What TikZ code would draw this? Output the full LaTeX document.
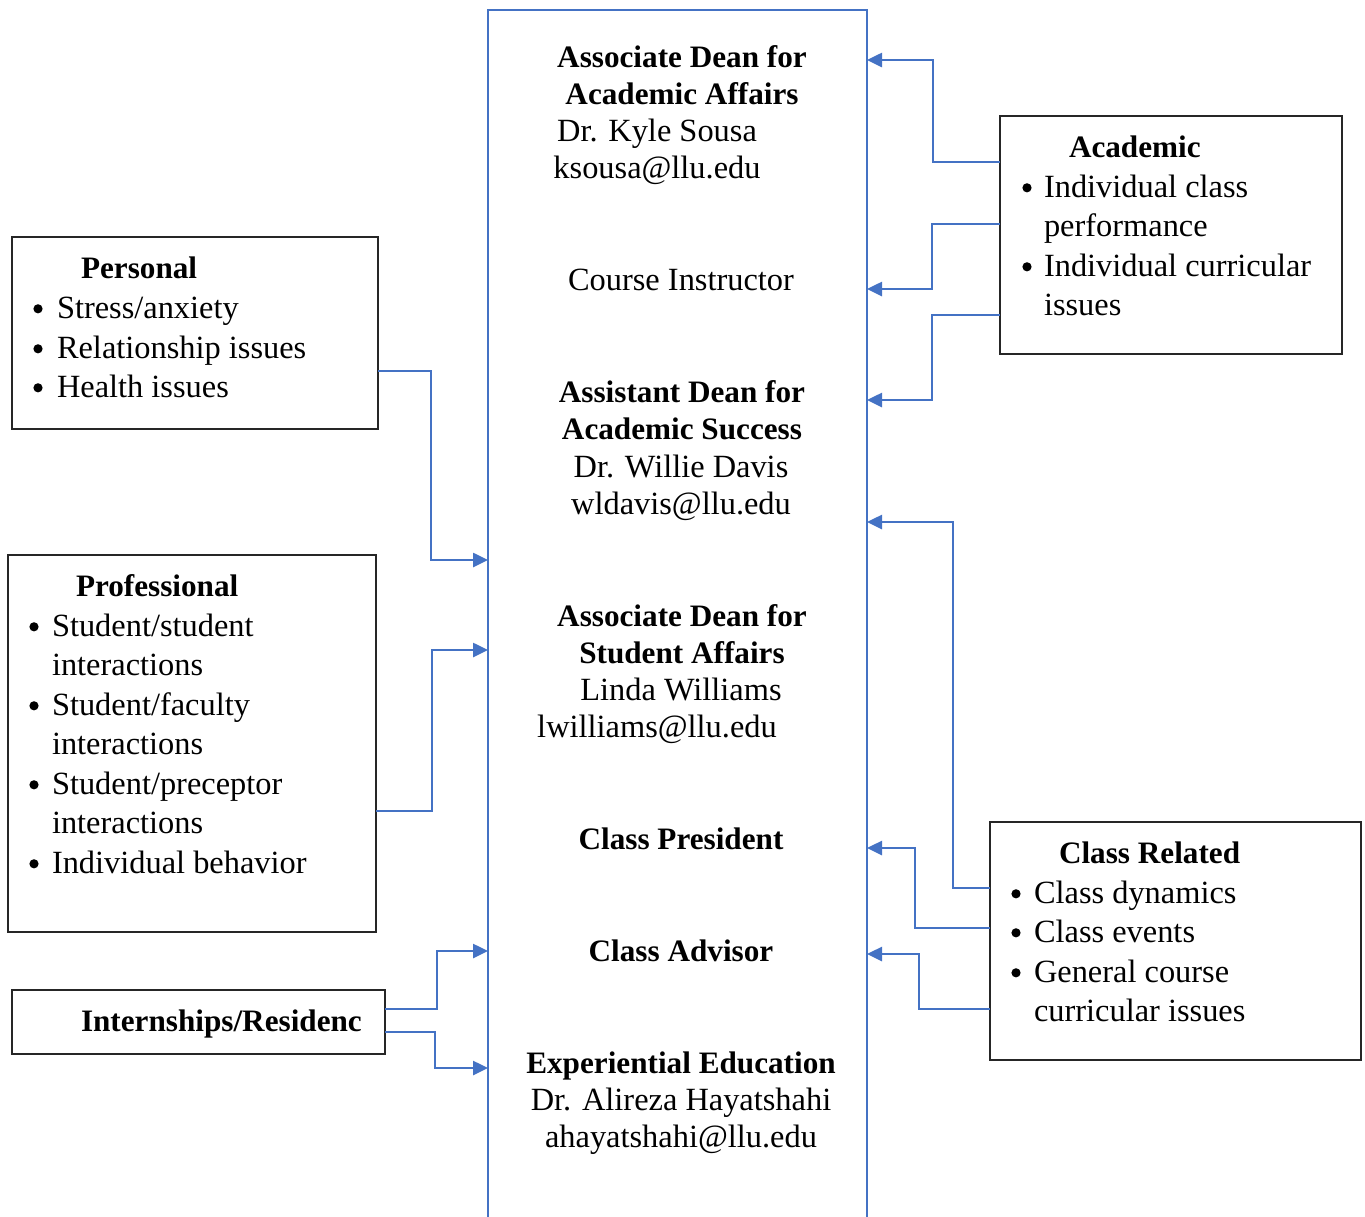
\documentclass[tikz,border=0pt]{standalone}
\usepackage{fontspec}
\setmainfont{Liberation Serif}
\usetikzlibrary{arrows.meta,fit}
\definecolor{connblue}{HTML}{4472C4}
\begin{document}
\begin{tikzpicture}[x=0.5pt,y=-0.5pt,
  every node/.style={inner sep=0pt, outer sep=0pt},
  txt/.style={font=\fontsize{16.2pt}{18pt}\selectfont, anchor=base},
  btxt/.style={font=\fontsize{15.6pt}{18pt}\selectfont\bfseries, anchor=base},
  lt/.style={txt, anchor=base west},
  blt/.style={btxt, anchor=base west},
  bul/.style={circle, fill=black, minimum size=4.6pt, yshift=4.6pt},
  catbox/.style={draw=black!85, line width=0.8pt},
  conn/.style={draw=connblue, line width=1.3pt, -{Triangle[length=7.5pt,width=7pt]}}
]
\useasboundingbox (0,0) rectangle (1365,1216);
\clip (0,0) rectangle (1365,1216);

% central column
\node[draw=connblue, line width=1.1pt, fit={(488,10) (867,1240)}] (center) {};

% category boxes
\node[catbox, fit={(12,237) (378,429)}] (personal) {};
\node[catbox, fit={(8,555) (376,932)}] (professional) {};
\node[catbox, fit={(12,990) (385,1054)}] (intern) {};
\node[catbox, fit={(1000,116) (1342,354)}] (academic) {};
\node[catbox, fit={(990,822) (1361,1060)}] (classrel) {};

% central texts
\node[btxt] (c1) at (682,67) {Associate Dean for};
\node[btxt] (c2) at (682,104) {Academic Affairs};
\node[txt] (c3) at (657,141) {Dr. Kyle Sousa};
\node[txt] (c4) at (657,178) {ksousa@llu.edu};
\node[txt] (c5) at (681,290) {Course Instructor};
\node[btxt] (c6) at (682,402) {Assistant Dean for};
\node[btxt] (c7) at (682,439) {Academic Success};
\node[txt] (c8) at (681,477) {Dr. Willie Davis};
\node[txt] (c9) at (681,514) {wldavis@llu.edu};
\node[btxt] (c10) at (682,626) {Associate Dean for};
\node[btxt] (c11) at (682,663) {Student Affairs};
\node[txt] (c12) at (681,700) {Linda Williams};
\node[txt] (c13) at (657,737) {lwilliams@llu.edu};
\node[btxt] (c14) at (681,849) {Class President};
\node[btxt] (c15) at (681,961) {Class Advisor};
\node[btxt] (c16) at (681,1073) {Experiential Education};
\node[txt] (c17) at (681,1110) {Dr. Alireza Hayatshahi};
\node[txt] (c18) at (681,1147) {ahayatshahi@llu.edu};

% Personal
\node[blt] (p0) at (81,278) {Personal};
\node[bul] (pb1) at (38,318) {};
\node[lt] (p1) at (57,318) {Stress/anxiety};
\node[bul] (pb2) at (38,358) {};
\node[lt] (p2) at (57,358) {Relationship issues};
\node[bul] (pb3) at (38,397) {};
\node[lt] (p3) at (57,397) {Health issues};

% Professional
\node[blt] (r0) at (76,596) {Professional};
\node[bul] (rb1) at (34,636) {};
\node[lt] (r1) at (52,636) {Student/student};
\node[lt] (r2) at (52,675) {interactions};
\node[bul] (rb3) at (34,715) {};
\node[lt] (r3) at (52,715) {Student/faculty};
\node[lt] (r4) at (52,754) {interactions};
\node[bul] (rb5) at (34,794) {};
\node[lt] (r5) at (52,794) {Student/preceptor};
\node[lt] (r6) at (52,833) {interactions};
\node[bul] (rb7) at (34,873) {};
\node[lt] (r7) at (52,873) {Individual behavior};

% Internships
\node[blt] (i0) at (81,1031) {Internships/Residenc};

% Academic
\node[blt] (a0) at (1069,157) {Academic};
\node[bul] (ab1) at (1027,197) {};
\node[lt] (a1) at (1044,197) {Individual class};
\node[lt] (a2) at (1044,236) {performance};
\node[bul] (ab3) at (1027,276) {};
\node[lt] (a3) at (1044,276) {Individual curricular};
\node[lt] (a4) at (1044,315) {issues};

% Class Related
\node[blt] (k0) at (1059,863) {Class Related};
\node[bul] (kb1) at (1016,903) {};
\node[lt] (k1) at (1034,903) {Class dynamics};
\node[bul] (kb2) at (1016,942) {};
\node[lt] (k2) at (1034,942) {Class events};
\node[bul] (kb3) at (1016,982) {};
\node[lt] (k3) at (1034,982) {General course};
\node[lt] (k4) at (1034,1021) {curricular issues};

% connectors: right side
\draw[conn] (academic.west |- 0,162) -- ++(-67,0) |- (center.east |- 0,60);
\draw[conn] (academic.west |- 0,224) -- ++(-68,0) |- (center.east |- 0,289);
\draw[conn] (academic.west |- 0,315) -- ++(-68,0) |- (center.east |- 0,400);
\draw[conn] (classrel.west |- 0,888) -- ++(-37,0) |- (center.east |- 0,522);
\draw[conn] (classrel.west |- 0,928) -- ++(-75,0) |- (center.east |- 0,848);
\draw[conn] (classrel.west |- 0,1009) -- ++(-71,0) |- (center.east |- 0,954);

% connectors: left side
\draw[conn] (personal.east |- 0,371) -- ++(53,0) |- (center.west |- 0,560);
\draw[conn] (professional.east |- 0,811) -- ++(56,0) |- (center.west |- 0,650);
\draw[conn] (intern.east |- 0,1009) -- ++(52,0) |- (center.west |- 0,951);
\draw[conn] (intern.east |- 0,1032) -- ++(50,0) |- (center.west |- 0,1068);
\end{tikzpicture}
\end{document}
